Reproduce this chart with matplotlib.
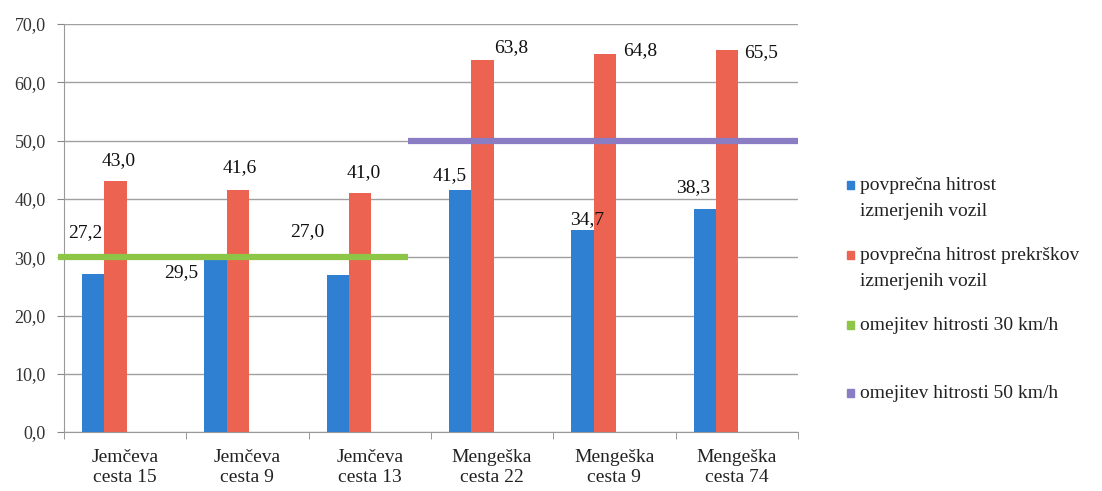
import matplotlib
matplotlib.use("Agg")
import matplotlib.pyplot as plt
import numpy as np
from matplotlib.patches import Rectangle

categories = ["Jemčeva\ncesta 15", "Jemčeva\ncesta 9", "Jemčeva\ncesta 13",
              "Mengeška\ncesta 22", "Mengeška\ncesta 9", "Mengeška\ncesta 74"]
avg_speed = [27.2, 29.5, 27.0, 41.5, 34.7, 38.3]
avg_violation_speed = [43.0, 41.6, 41.0, 63.8, 64.8, 65.5]
limit30 = 30
limit50 = 50
series_names = ["povprečna hitrost\nizmerjenih vozil",
                "povprečna hitrost prekrškov\nizmerjenih vozil",
                "omejitev hitrosti 30 km/h",
                "omejitev hitrosti 50 km/h"]
yticks = [0, 10, 20, 30, 40, 50, 60, 70]

BLUE = "#2F80D2"
RED = "#EC6352"
GREEN = "#8DC647"
PURPLE = "#8A7DC4"
SERIF = "Liberation Serif"

fig = plt.figure(figsize=(11.02, 4.91), dpi=100)
ax = fig.add_axes([0.058, 0.120, 0.666, 0.831])

x = np.arange(len(categories))
w = 0.184
ax.bar(x - 0.26, avg_speed, width=w, color=BLUE, zorder=3)
ax.bar(x - 0.078, avg_violation_speed, width=w, color=RED, zorder=3)

# limit lines
ax.plot([-0.55, 2.31], [limit30, limit30], color=GREEN, lw=4.5, zorder=4,
        solid_capstyle="butt", clip_on=False)
ax.plot([2.31, 5.5], [limit50, limit50], color=PURPLE, lw=4.5, zorder=4,
        solid_capstyle="butt")

def fmt(v):
    return f"{v:.1f}".replace(".", ",")

blue_off = [(-8, 41), (-34, -12), (-31, 43), (-11, 15), (5, 10), (-12, 21)]
red_off = [(3, 21), (2, 22), (4, 21), (29, 13), (35, 4), (34, -2)]
for i, v in enumerate(avg_speed):
    ax.annotate(fmt(v), (x[i] - 0.26, v), xytext=blue_off[i],
                textcoords="offset pixels", ha="center", va="center",
                fontsize=14, family=SERIF, zorder=5, color="#111111")
for i, v in enumerate(avg_violation_speed):
    ax.annotate(fmt(v), (x[i] - 0.078, v), xytext=red_off[i],
                textcoords="offset pixels", ha="center", va="center",
                fontsize=14, family=SERIF, zorder=5, color="#111111")

ax.set_xlim(-0.5, 5.5)
ax.set_ylim(0, 70)
ax.set_yticks(yticks)
ax.set_yticklabels([fmt(t) for t in yticks], family=SERIF, fontsize=13,
                   color="#333333")
ax.set_xticks(x)
ax.set_xticklabels(categories, family=SERIF, fontsize=14, linespacing=1.25,
                   color="#222222")
ax.tick_params(axis="x", length=0, pad=12)
ax.set_xticks(np.arange(-0.5, 6.0, 1.0), minor=True)
ax.tick_params(axis="x", which="minor", length=5, color="#888888")
ax.tick_params(axis="y", length=5, color="#888888", pad=8)
ax.grid(axis="y", color="#A0A0A0", lw=1, zorder=1)
for s in ["top", "right"]:
    ax.spines[s].set_visible(False)
for s in ["left", "bottom"]:
    ax.spines[s].set_color("#999999")

# legend
colors = [BLUE, RED, GREEN, PURPLE]
entry_y = [185, 255, 325, 393]
W, H = 1102, 491
for c, name, yy in zip(colors, series_names, entry_y):
    fig.patches.append(Rectangle((847 / W, 1 - (yy + 4) / H), 7 / W, 8 / H,
                                 transform=fig.transFigure, color=c))
    for k, line in enumerate(name.split("\n")):
        fig.text(860 / W, 1 - (yy + 27 * k) / H, line, family=SERIF,
                 fontsize=14, va="center", ha="left", color="#222222")

fig.savefig("out.png", dpi=100)
